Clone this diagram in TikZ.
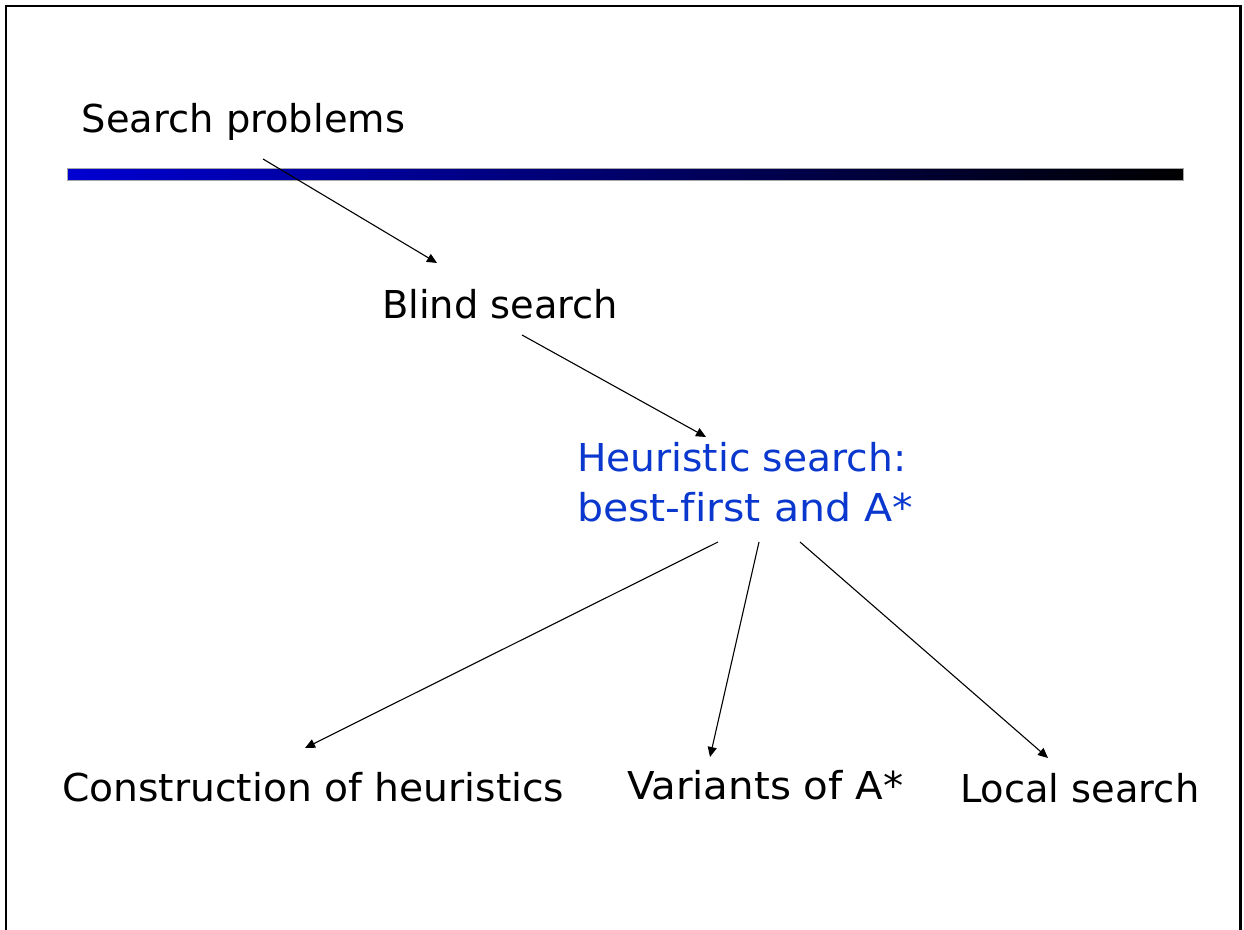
\documentclass[tikz,border=0pt]{standalone}
\usepackage{fontspec}
\usepackage{graphicx}
\setmainfont{DejaVu Sans}[Ligatures=NoCommon]
\usetikzlibrary{arrows.meta}
\definecolor{heurblue}{RGB}{10,55,205}
\definecolor{barblue}{RGB}{0,0,210}
% horizontal stretch of a label
\newcommand\widen[2]{\scalebox{#1}[1]{#2}}
\begin{document}
\begin{tikzpicture}[x=0.5pt,y=-0.5pt,
  label/.style={anchor=base west,inner sep=0pt,outer sep=0pt,
    font=\fontsize{19.2}{25}\selectfont},
  link/.style={line width=0.55pt,-{Triangle[length=5pt,width=4.5pt]}}]
  \useasboundingbox (0,0) rectangle (1244,930);
  % slide frame
  \draw[line width=1.3pt] (6,945) -- (6,6) -- (1240.5,6) -- (1240.5,945);
  % title rule
  \shade[left color=barblue,right color=black,draw=gray!70,line width=0.5pt]
    (67,169) rectangle (1183,181);
  % labels
  \node[label] (sp) at (82,133) {Search problems};
  \node[label] (bs) at (382,319) {Blind search};
  \node[label,text=heurblue,align=left] (hs) at (577,522)
    {\widen{1.02}{Heuristic search:}\\\widen{1.07}{best-first and A*}};
  \node[label] (ch) at (62,802) {\widen{1.022}{Construction of heuristics}};
  \node[label] (va) at (627,800) {\widen{1.05}{Variants of A*}};
  \node[label] (ls) at (960,803) {Local search};
  % connector end points
  \coordinate (spout) at (263,159);
  \coordinate (bsin) at (437,263);
  \coordinate (bsout) at (522,335);
  \coordinate (hsin) at (706,437);
  \coordinate (hsoutA) at (718,542);
  \coordinate (hsoutB) at (759,542);
  \coordinate (hsoutC) at (800,542);
  \coordinate (chin) at (305,748);
  \coordinate (vain) at (710,757);
  \coordinate (lsin) at (1048,758);
  % connectors
  \draw[link] (spout) -- (bsin);
  \draw[link] (bsout) -- (hsin);
  \draw[link] (hsoutA) -- (chin);
  \draw[link] (hsoutB) -- (vain);
  \draw[link] (hsoutC) -- (lsin);
\end{tikzpicture}
\end{document}
